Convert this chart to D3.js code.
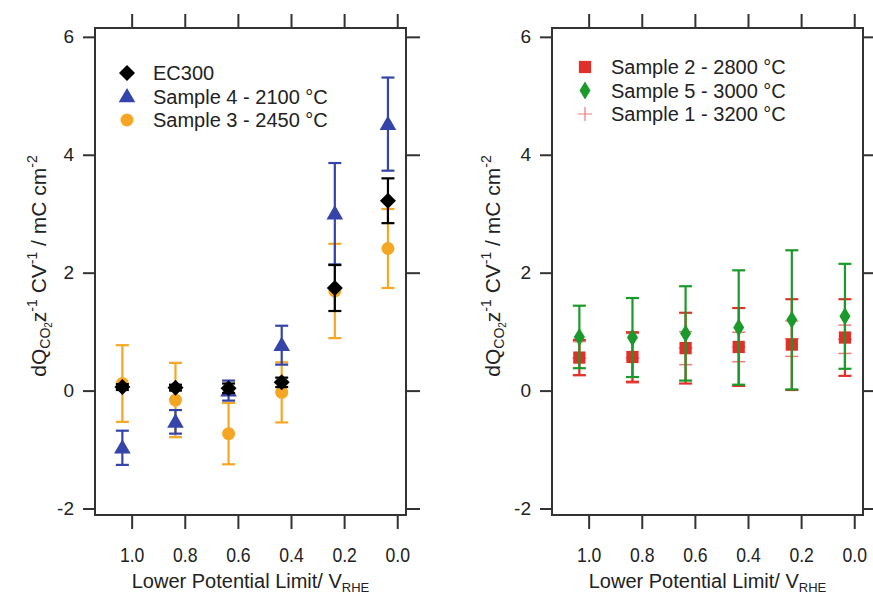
<!DOCTYPE html>
<html><head><meta charset="utf-8">
<script src="https://cdn.jsdelivr.net/npm/d3@7"></script>
<style>body{margin:0;background:#fff}svg{display:block}text{font-family:"Liberation Sans",Arial,sans-serif;fill:#222}</style>
</head><body><svg id="c" width="873" height="596"></svg>
<script>
// ---- data ----
const potentials = [1.035, 0.835, 0.635, 0.435, 0.235, 0.035];
const xTicks = [1.0, 0.8, 0.6, 0.4, 0.2, 0.0];
const yTicks = [-2, 0, 2, 4, 6];
// left panel
const ec300 = [0.06, 0.05, 0.04, 0.14, 1.74, 3.22];
const ec300Err = [0.05, 0.05, 0.08, 0.08, 0.39, 0.38];
const sample4 = [-0.97, -0.53, 0.0, 0.77, 3.0, 4.52];
const sample4Err = [0.29, 0.2, 0.17, 0.33, 0.86, 0.79];
const sample3 = [0.12, -0.16, -0.73, -0.03, 1.69, 2.41];
const sample3Err = [0.65, 0.63, 0.52, 0.51, 0.8, 0.67];
// right panel
const sample2 = [0.56, 0.57, 0.72, 0.74, 0.78, 0.9];
const sample2Err = [0.3, 0.42, 0.6, 0.66, 0.77, 0.65];
const sample5 = [0.91, 0.9, 0.97, 1.07, 1.2, 1.26];
const sample5Err = [0.53, 0.67, 0.8, 0.97, 1.18, 0.89];
const sample1 = [0.55, 0.55, 0.72, 0.74, 0.88, 0.87];
const sample1Err = [0.28, 0.42, 0.28, 0.25, 0.3, 0.24];

const leftSeries = [
  {name:"Sample 3 - 2450 °C", vals:sample3, errs:sample3Err, color:"#f5a623", shape:"circle"},
  {name:"Sample 4 - 2100 °C", vals:sample4, errs:sample4Err, color:"#3444a8", shape:"triangle"},
  {name:"EC300", vals:ec300, errs:ec300Err, color:"#000000", shape:"bigdiamond"}
];
const leftLegend = [leftSeries[2], leftSeries[1], leftSeries[0]];
const rightSeries = [
  {name:"Sample 1 - 3200 °C", vals:sample1, errs:sample1Err, color:"#f07a7a", shape:"plus"},
  {name:"Sample 2 - 2800 °C", vals:sample2, errs:sample2Err, color:"#e0302a", shape:"square"},
  {name:"Sample 5 - 3000 °C", vals:sample5, errs:sample5Err, color:"#1a9a2a", shape:"diamond"}
];
const rightLegend = [rightSeries[1], rightSeries[2], rightSeries[0]];

const svg = d3.select("#c");
const y = d3.scaleLinear().domain([-2.11, 6.15]).range([515, 28]);
const axisColor = "#333";

function marker(g, shape, color){
  if(shape==="circle") g.append("circle").attr("r",6.5).attr("fill",color);
  else if(shape==="triangle") g.append("path").attr("d",d3.symbol(d3.symbolTriangle,120)()).attr("fill",color).attr("transform","translate(0,1)");
  else if(shape==="bigdiamond") g.append("path").attr("d",d3.symbol(d3.symbolSquare,128)()).attr("fill",color).attr("transform","rotate(45)");
  else if(shape==="square") g.append("path").attr("d",d3.symbol(d3.symbolSquare,150)()).attr("fill",color);
  else if(shape==="diamond") g.append("path").attr("d","M0,-9L5.5,0L0,9L-5.5,0Z").attr("fill",color);
  else if(shape==="plus") g.append("path").attr("d","M-7,0H7M0,-7V7").attr("stroke",color).attr("stroke-width",1.2);
}

function panel(x0, x1, series, legend, legX, legY, titleX){
  const x = d3.scaleLinear().domain([1.138, -0.033]).range([x0, x1]);
  const g = svg.append("g");
  const ax = (a)=>a.tickSizeOuter(0);
  const bottom = g.append("g").attr("transform",`translate(0,515)`)
    .call(ax(d3.axisBottom(x).tickValues(xTicks).tickSize(14).tickPadding(19).tickFormat(d=>d.toFixed(1))));
  const top = g.append("g").attr("transform",`translate(0,28)`)
    .call(ax(d3.axisTop(x).tickValues(xTicks).tickSize(14).tickFormat("")));
  const left = g.append("g").attr("transform",`translate(${x0},0)`)
    .call(ax(d3.axisLeft(y).tickValues(yTicks).tickSize(12).tickPadding(9).tickFormat(d=>String(d))));
  const right = g.append("g").attr("transform",`translate(${x1},0)`)
    .call(ax(d3.axisRight(y).tickValues(yTicks).tickSize(14).tickFormat("")));
  [bottom,top,left,right].forEach(a=>{
    a.select(".domain").remove();
    a.selectAll("line").attr("stroke",axisColor).attr("stroke-width",2);
    a.selectAll("text").attr("font-size",19).attr("fill","#222").style("font-family","Liberation Sans, Arial, sans-serif");
  });
  bottom.selectAll("text").attr("font-size",20).attr("transform","scale(0.88,1)");
  g.append("rect").attr("x",x0).attr("y",28).attr("width",x1-x0).attr("height",487)
    .attr("fill","none").attr("stroke",axisColor).attr("stroke-width",2);

  // data
  series.forEach(s=>{
    const sg = g.append("g");
    s.vals.forEach((v,i)=>{
      const px = x(potentials[i]);
      const e = s.errs[i];
      const lw = s.shape==="plus"?1.5:2.2;
      sg.append("line").attr("x1",px).attr("x2",px).attr("y1",y(v-e)).attr("y2",y(v+e)).attr("stroke",s.color).attr("stroke-width",lw);
      [v-e, v+e].forEach(c=>sg.append("line").attr("x1",px-6.5).attr("x2",px+6.5).attr("y1",y(c)).attr("y2",y(c)).attr("stroke",s.color).attr("stroke-width",lw));
      const mg = sg.append("g").attr("transform",`translate(${px},${y(v)})`);
      marker(mg, s.shape, s.color);
    });
  });

  // legend
  legend.forEach((s,i)=>{
    const ly = legY + i*23.5;
    const mg = g.append("g").attr("transform",`translate(${legX},${ly})`);
    marker(mg, s.shape, s.color);
    g.append("text").attr("x",legX+26).attr("y",ly+7).attr("font-size",20).text(s.name);
  });

  // x title
  const xt = g.append("text").attr("x",(x0+x1)/2).attr("y",588).attr("text-anchor","middle").attr("font-size",20);
  xt.append("tspan").text("Lower Potential Limit/ V");
  xt.append("tspan").attr("font-size",13).attr("dy",4).text("RHE");

  // y title
  const yt = g.append("text").attr("transform",`translate(${titleX},266) rotate(-90)`).attr("text-anchor","middle").attr("font-size",21);
  yt.append("tspan").text("dQ");
  yt.append("tspan").attr("font-size",14).attr("dy",4).text("CO");
  yt.append("tspan").attr("font-size",10).attr("dy",2).text("2");
  yt.append("tspan").attr("dy",-6).text("z");
  yt.append("tspan").attr("font-size",14).attr("dy",-9).text("-1");
  yt.append("tspan").attr("dy",9).text(" CV");
  yt.append("tspan").attr("font-size",14).attr("dy",-9).text("-1");
  yt.append("tspan").attr("dy",9).text(" / mC cm");
  yt.append("tspan").attr("font-size",14).attr("dy",-9).text("-2");
}

panel(95, 406, leftSeries, leftLegend, 127, 73, 46);
panel(552, 863, rightSeries, rightLegend, 585, 67, 500);
</script></body></html>
